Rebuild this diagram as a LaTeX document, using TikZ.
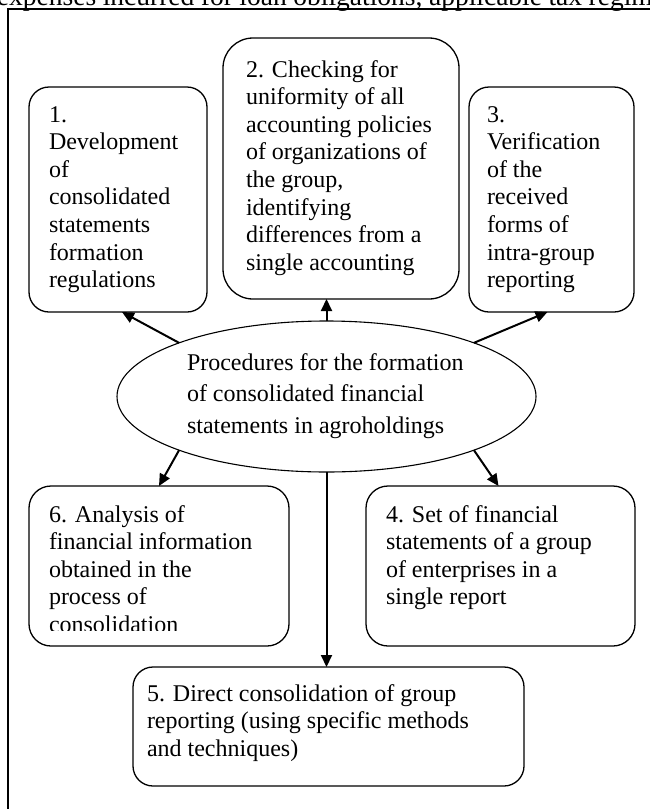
\documentclass[tikz,border=0pt]{standalone}
\usepackage{fontspec}
\setmainfont{Liberation Serif}
\usetikzlibrary{arrows.meta,shapes.geometric,calc}
\newcommand\boxfont{\fontsize{24}{27.6}\selectfont}
\newcommand\tblock[2]{\parbox[t]{#1}{\raggedright\boxfont #2}}
\begin{document}
\begin{tikzpicture}[x=1pt,y=-1pt,
  box/.style={draw, line width=1.3pt, rounded corners=#1, inner sep=0pt, outer sep=0pt, anchor=north west},
  box/.default=20pt,
  txt/.style={anchor=base west, inner sep=0pt, outer sep=0pt},
  oval/.style={draw, ellipse, line width=1.1pt, inner sep=0pt, outer sep=0pt},
  arr/.style={line width=2pt, -{Triangle[length=12pt,width=11pt]}}]

\useasboundingbox (0,0) rectangle (650,809);
\fill[white] (0,0) rectangle (650,809);
\begin{scope}
  \clip (0,0) rectangle (650,809);
  \node[txt] (top) at (-3,5) {\fontsize{27.5}{30}\selectfont\makebox[668pt][s]{expenses incurred for loan obligations, applicable tax regime}};
  \draw[line width=1.3pt] (8,9) rectangle (700,900);
\end{scope}

% boxes
\node[box, minimum width=178pt, minimum height=225pt] (b1) at (29,87) {};
\node[box=30pt, minimum width=236pt, minimum height=261pt] (b2) at (223,38) {};
\node[box, minimum width=165pt, minimum height=225pt] (b3) at (469,87) {};
\node[box=22pt, minimum width=260pt, minimum height=160pt] (b6) at (29,486) {};
\node[box=22pt, minimum width=269pt, minimum height=160pt] (b4) at (366,486) {};
\node[box, minimum width=391pt, minimum height=119pt] (b5) at (133,667) {};
\node[oval, minimum width=419pt, minimum height=151pt] (e) at (326.5,396.5) {};

% texts
\node[txt] (t1) at (49,122) {\tblock{170pt}{1.\\Development\\of\\consolidated\\statements\\formation\\regulations}};
\node[txt] (t2) at (246,77) {\tblock{220pt}{2. Checking for\\uniformity of all\\accounting policies\\of organizations of\\the group,\\identifying\\differences from a\\single accounting}};
\node[txt] (t3) at (487,122) {\tblock{160pt}{3.\\Verification\\of the\\received\\forms of\\intra-group\\reporting}};
\begin{scope}
  \clip (29,486) rectangle (289,630);
  \node[txt] (t6) at (49,522) {\tblock{240pt}{6. Analysis of\\financial information\\obtained in the\\process of\\consolidation}};
\end{scope}
\node[txt] (t4) at (386,522) {\tblock{250pt}{4. Set of financial\\statements of a group\\of enterprises in a\\single report}};
\node[txt] (t5) at (147,701) {\tblock{370pt}{5. Direct consolidation of group\\reporting (using specific methods\\and techniques)}};
\node[txt] (te) at (187,370) {\parbox[t]{300pt}{\raggedright\fontsize{24}{31.5}\selectfont Procedures for the formation\\of consolidated financial\\statements in agroholdings}};

% connectors
\draw[arr] (e.160) -- ([xshift=4pt]b1.south);
\draw[arr] (e.north) -- (e.north |- b2.south);
\draw[arr] (e.20) -- ([xshift=-4pt]b3.south);
\draw[arr] (e.200) -- (b6.north);
\draw[arr] (e.340) -- ([xshift=-2pt]b4.north);
\draw[arr] (e.south) -- (e.south |- b5.north);
\end{tikzpicture}
\end{document}
